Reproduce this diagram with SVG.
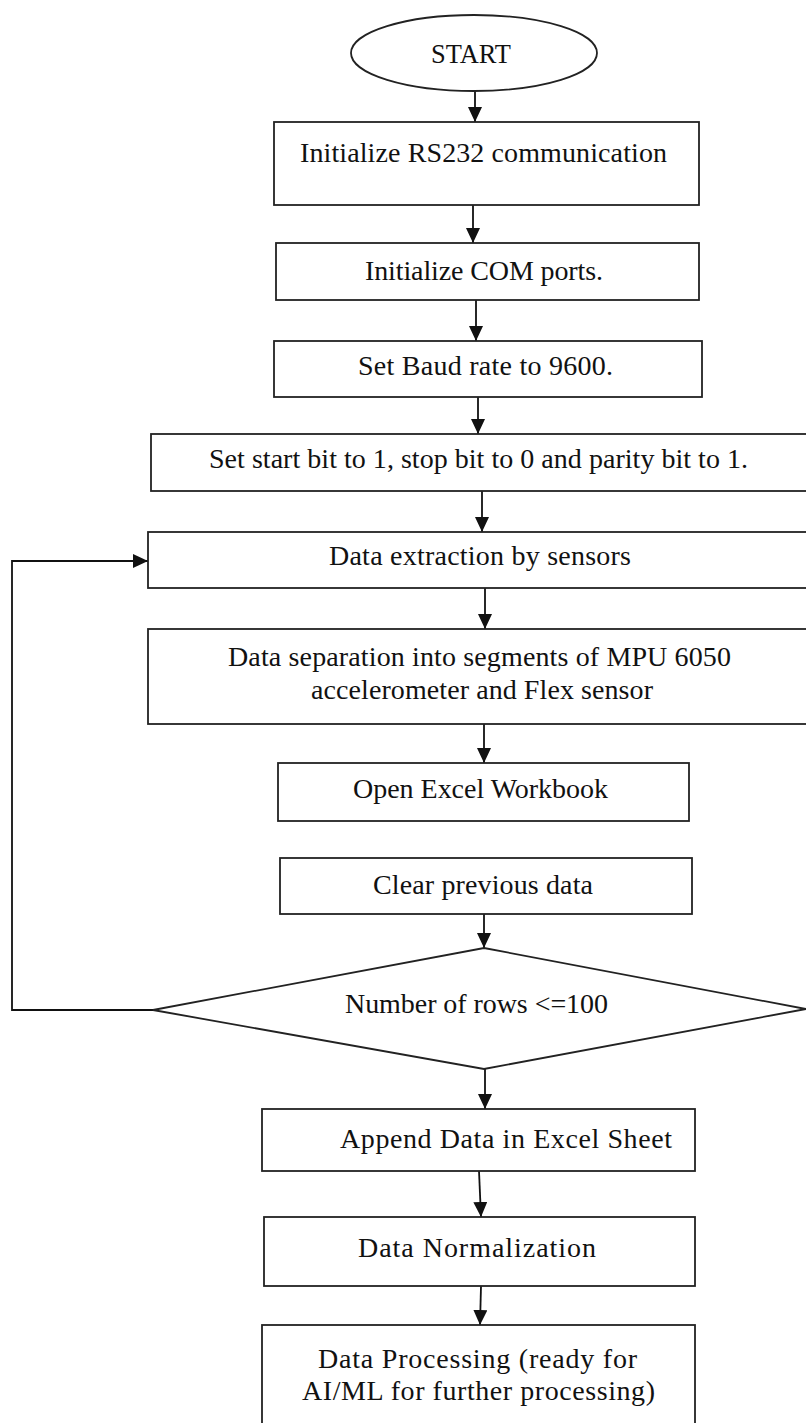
<svg xmlns="http://www.w3.org/2000/svg" width="806" height="1423" viewBox="0 0 806 1423">
<style>
.shape{fill:#fff;stroke:#222;stroke-width:1.8}
.conn{fill:none;stroke:#111;stroke-width:1.8}
.t{font-family:"Liberation Serif","Times New Roman",serif;font-size:28px;fill:#111}
</style>
<defs>
<marker id="ah" viewBox="0 0 15 14" refX="15" refY="7" markerWidth="15" markerHeight="14" markerUnits="userSpaceOnUse" orient="auto">
<path d="M0,0 L15,7 L0,14 z" fill="#111"/>
</marker>
</defs>
<rect width="806" height="1423" fill="#fff"/>
<g id="connectors">
<line class="conn" x1="475" y1="91" x2="475" y2="122" marker-end="url(#ah)"/>
<line class="conn" x1="473" y1="205" x2="473" y2="243" marker-end="url(#ah)"/>
<line class="conn" x1="476" y1="300" x2="476" y2="341" marker-end="url(#ah)"/>
<line class="conn" x1="478" y1="397" x2="478" y2="434" marker-end="url(#ah)"/>
<line class="conn" x1="482" y1="491" x2="482" y2="532" marker-end="url(#ah)"/>
<line class="conn" x1="485" y1="588" x2="485" y2="629" marker-end="url(#ah)"/>
<line class="conn" x1="484" y1="724" x2="484" y2="763" marker-end="url(#ah)"/>
<line class="conn" x1="484" y1="914" x2="484" y2="948" marker-end="url(#ah)"/>
<line class="conn" x1="485" y1="1069" x2="485" y2="1109" marker-end="url(#ah)"/>
<line class="conn" x1="479" y1="1171" x2="481" y2="1217" marker-end="url(#ah)"/>
<line class="conn" x1="481" y1="1286" x2="480" y2="1325" marker-end="url(#ah)"/>
<polyline class="conn" points="153,1010 12,1010 12,561 148,561" marker-end="url(#ah)"/>
</g>
<g id="start">
<ellipse class="shape" cx="474" cy="53" rx="123" ry="38"/>
<text class="t" x="431" y="63" textLength="80" lengthAdjust="spacingAndGlyphs">START</text>
</g>
<g id="init-rs232">
<rect class="shape" x="274" y="122" width="425" height="83"/>
<text class="t" x="300" y="162" textLength="367" lengthAdjust="spacing">Initialize RS232 communication</text>
</g>
<g id="init-com">
<rect class="shape" x="276" y="243" width="423" height="57"/>
<text class="t" x="365" y="280" textLength="238" lengthAdjust="spacing">Initialize COM ports.</text>
</g>
<g id="baud">
<rect class="shape" x="274" y="341" width="428" height="56"/>
<text class="t" x="358" y="375" textLength="255" lengthAdjust="spacing">Set Baud rate to 9600.</text>
</g>
<g id="bits">
<rect class="shape" x="151" y="434" width="660" height="57"/>
<text class="t" x="209" y="468" textLength="539" lengthAdjust="spacing">Set start bit to 1, stop bit to 0 and parity bit to 1.</text>
</g>
<g id="extraction">
<rect class="shape" x="148" y="532" width="663" height="56"/>
<text class="t" x="329" y="565" textLength="302" lengthAdjust="spacing">Data extraction by sensors</text>
</g>
<g id="separation">
<rect class="shape" x="148" y="629" width="663" height="95"/>
<text class="t" x="228" y="666" textLength="503" lengthAdjust="spacing">Data separation into segments of MPU 6050</text>
<text class="t" x="311" y="699" textLength="342" lengthAdjust="spacing">accelerometer and Flex sensor</text>
</g>
<g id="open-excel">
<rect class="shape" x="278" y="763" width="411" height="58"/>
<text class="t" x="353" y="798" textLength="255" lengthAdjust="spacing">Open Excel Workbook</text>
</g>
<g id="clear">
<rect class="shape" x="280" y="858" width="412" height="56"/>
<text class="t" x="373" y="894" textLength="220" lengthAdjust="spacing">Clear previous data</text>
</g>
<g id="decision">
<polygon class="shape" points="484,948 806,1009 484,1069 153,1010"/>
<text class="t" x="345" y="1013" textLength="263" lengthAdjust="spacing">Number of rows &lt;=100</text>
</g>
<g id="append">
<rect class="shape" x="262" y="1109" width="433" height="62"/>
<text class="t" x="340" y="1148" textLength="332" lengthAdjust="spacing">Append Data in Excel Sheet</text>
</g>
<g id="normalization">
<rect class="shape" x="264" y="1217" width="431" height="69"/>
<text class="t" x="358" y="1257" textLength="238" lengthAdjust="spacing">Data Normalization</text>
</g>
<g id="processing">
<rect class="shape" x="262" y="1325" width="433" height="110"/>
<text class="t" x="318" y="1368" textLength="319" lengthAdjust="spacing">Data Processing (ready for</text>
<text class="t" x="302" y="1400" textLength="353" lengthAdjust="spacing">AI/ML for further processing)</text>
</g>
</svg>
